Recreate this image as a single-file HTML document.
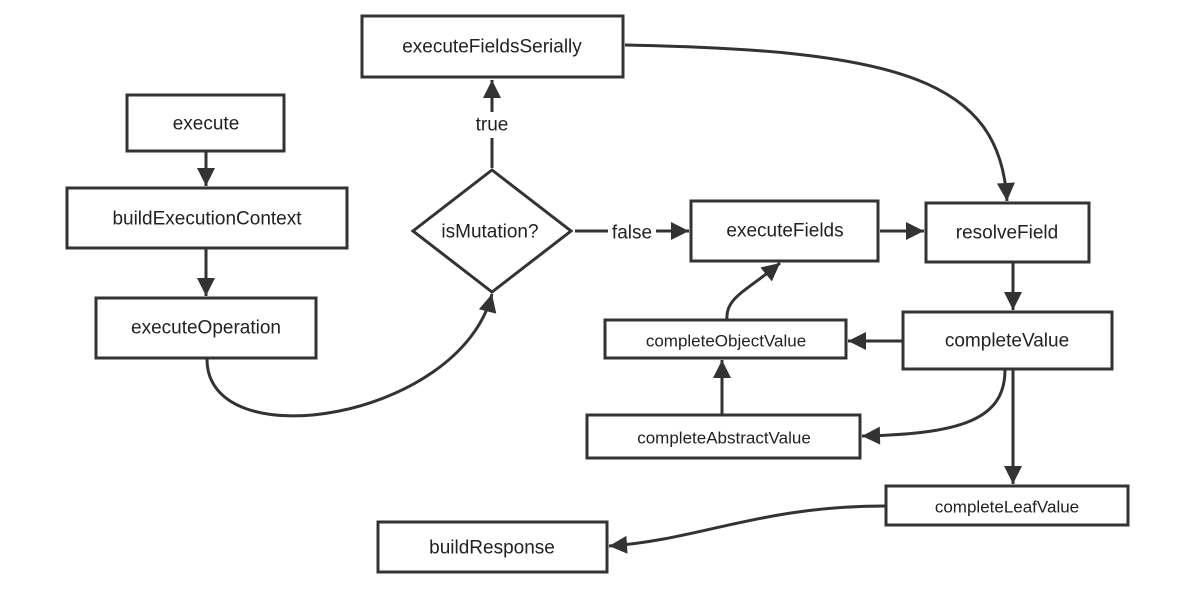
<!DOCTYPE html>
<html><head><style>body{margin:0;background:#fff}svg text{font-family:"Liberation Sans",sans-serif;fill:#222;text-anchor:middle;dominant-baseline:central}</style></head>
<body><svg width="1200" height="605" xmlns="http://www.w3.org/2000/svg">
<defs><marker id="b" viewBox="0 0 10 10" refX="10" refY="5" markerWidth="24" markerHeight="18" orient="auto" markerUnits="userSpaceOnUse"><path d="M0,0 L10,5 L0,10z" fill="#333"/></marker></defs>
<g fill="#fff" stroke="#333" stroke-width="3">
<rect x="127" y="95" width="157" height="56"/>
<rect x="67" y="188" width="280" height="60"/>
<rect x="96" y="298" width="220" height="60"/>
<rect x="362" y="16" width="261" height="61"/>
<polygon points="492,170 571,231 492,292 413,231"/>
<rect x="691" y="201" width="187" height="60"/>
<rect x="926" y="203" width="163" height="59"/>
<rect x="903" y="312" width="209" height="57"/>
<rect x="605" y="320" width="241" height="38"/>
<rect x="587" y="415" width="273" height="43"/>
<rect x="886" y="486" width="242" height="39"/>
<rect x="378" y="522" width="229" height="50"/>
</g>
<g fill="none" stroke="#333" stroke-width="3" marker-end="url(#b)">
<path d="M206,151 V186"/>
<path d="M206,248 V296"/>
<path d="M492,168 V80"/>
<path d="M575,231 H689"/>
<path d="M880,231 H924"/>
<path d="M1013,262 V310"/>
<path d="M902,341 H848"/>
<path d="M727,320 C725,298 745,292 780,263"/>
<path d="M722,415 V360"/>
<path d="M1005,370 C1005,420 960,434 862,436"/>
<path d="M1013,370 V484"/>
<path d="M885,506 C760,506 700,540 609,546"/>
<path d="M207,358 C205,460 460,420 492,294"/>
<path d="M625,45 C900,50 1000,80 1007,201"/>
</g>
<rect x="478" y="112" width="28" height="26" fill="#fff"/>
<rect x="608" y="220" width="48" height="24" fill="#fff"/>
<text x="206" y="124" font-size="19">execute</text>
<text x="207" y="219" font-size="19">buildExecutionContext</text>
<text x="206" y="328" font-size="19">executeOperation</text>
<text x="492" y="47" font-size="19">executeFieldsSerially</text>
<text x="492" y="125" font-size="19">true</text>
<text x="490" y="232" font-size="19">isMutation?</text>
<text x="632" y="233" font-size="19">false</text>
<text x="785" y="231" font-size="19">executeFields</text>
<text x="1007" y="233" font-size="19">resolveField</text>
<text x="1007" y="341" font-size="19">completeValue</text>
<text x="726" y="341" font-size="17">completeObjectValue</text>
<text x="724" y="438" font-size="17">completeAbstractValue</text>
<text x="1007" y="507" font-size="17">completeLeafValue</text>
<text x="492" y="548" font-size="19">buildResponse</text>
</svg></body></html>
